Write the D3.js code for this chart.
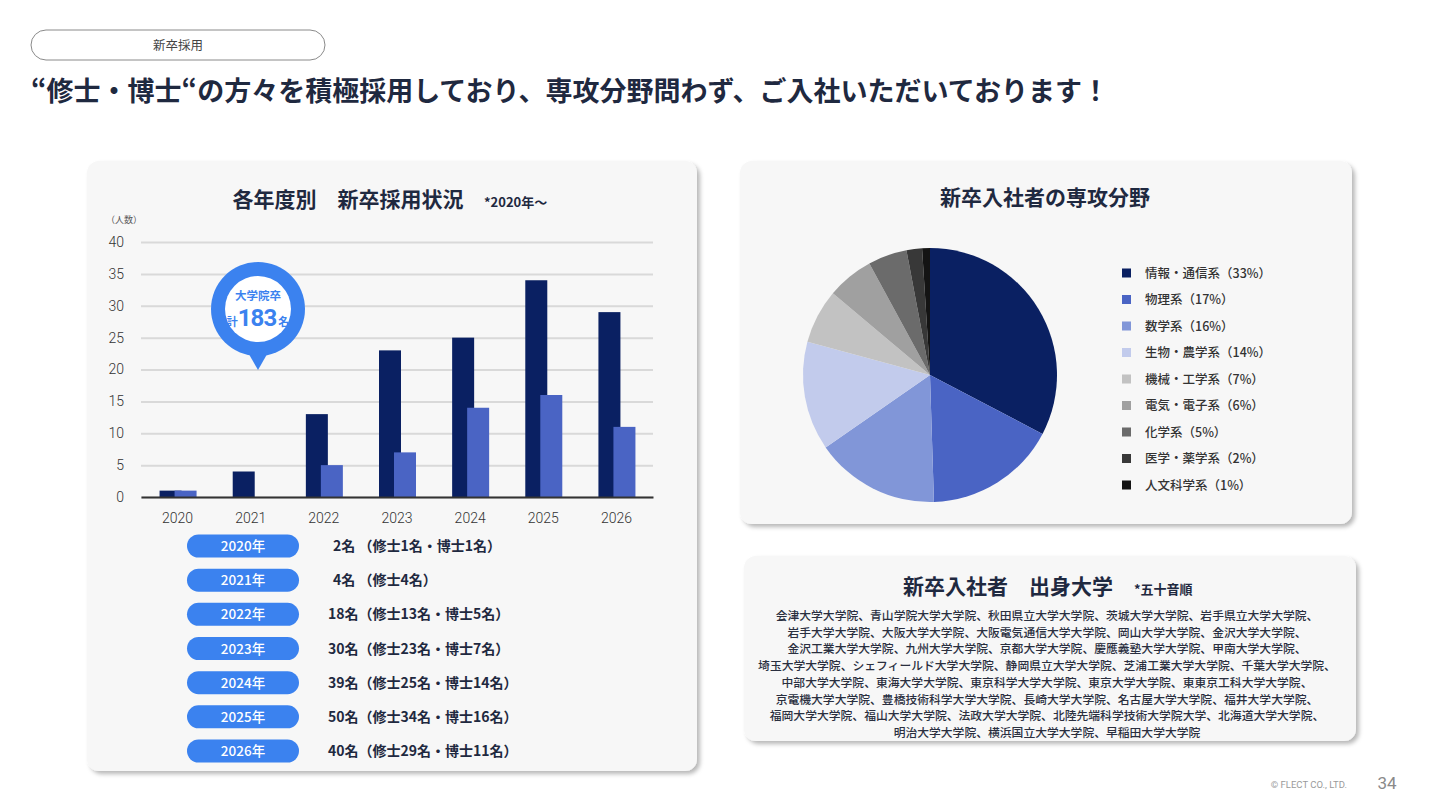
<!DOCTYPE html>
<html lang="ja">
<head>
<meta charset="utf-8">
<script src="https://cdn.jsdelivr.net/npm/d3@7"></script>
<style>
  html, body { margin: 0; padding: 0; background: #fff; }
  svg { display: block; font-family: "Noto Sans CJK JP", "Noto Sans", sans-serif; }
</style>
</head>
<body>
<div class="chart"></div>
<script>
// 年度別 採用数
let years = ["2020", "2021", "2022", "2023", "2024", "2025", "2026"];
let masters = [1, 4, 13, 23, 25, 34, 29];
let doctors = [1, 0, 5, 7, 14, 16, 11];
let yTicks = [0, 5, 10, 15, 20, 25, 30, 35, 40];
let yearLabels = ["2020年", "2021年", "2022年", "2023年", "2024年", "2025年", "2026年"];
let yearNotes = [
  "2名 （修士1名・博士1名）",
  "4名 （修士4名）",
  "18名（修士13名・博士5名）",
  "30名（修士23名・博士7名）",
  "39名（修士25名・博士14名）",
  "50名（修士34名・博士16名）",
  "40名（修士29名・博士11名）"
];

// 専攻分野
let fields = ["情報・通信系", "物理系", "数学系", "生物・農学系", "機械・工学系", "電気・電子系", "化学系", "医学・薬学系", "人文科学系"];
let fieldShares = [33, 17, 16, 14, 7, 6, 5, 2, 1];
let fieldColors = ["#0a2062", "#4a64c4", "#8196d8", "#c2cbec", "#c2c2c2", "#a0a0a0", "#6b6b6b", "#383838", "#141414"];

// 出身大学
let universities = [
  "会津大学大学院、青山学院大学大学院、秋田県立大学大学院、茨城大学大学院、岩手県立大学大学院、",
  "岩手大学大学院、大阪大学大学院、大阪電気通信大学大学院、岡山大学大学院、金沢大学大学院、",
  "金沢工業大学大学院、九州大学大学院、京都大学大学院、慶應義塾大学大学院、甲南大学大学院、",
  "埼玉大学大学院、シェフィールド大学大学院、静岡県立大学大学院、芝浦工業大学大学院、千葉大学大学院、",
  "中部大学大学院、東海大学大学院、東京科学大学大学院、東京大学大学院、東東京工科大学大学院、",
  "京電機大学大学院、豊橋技術科学大学大学院、長崎大学大学院、名古屋大学大学院、福井大学大学院、",
  "福岡大学大学院、福山大学大学院、法政大学大学院、北陸先端科学技術大学院大学、北海道大学大学院、",
  "明治大学大学院、横浜国立大学大学院、早稲田大学大学院"
];

let width = 1440;
let height = 810;
let navy = "#1f2940";
let blue = "#3b82ef";

const svg = d3.select(".chart")
  .append("svg")
  .attr("width", width)
  .attr("height", height);

let defs = svg.append("defs");
let shadow = defs.append("filter").attr("id", "shadow")
  .attr("x", "-5%").attr("y", "-5%").attr("width", "115%").attr("height", "115%");
shadow.append("feDropShadow")
  .attr("dx", 3).attr("dy", 3).attr("stdDeviation", 2)
  .attr("flood-color", "#000").attr("flood-opacity", 0.28);

// header
svg.append("rect")
  .attr("x", 31).attr("y", 30).attr("width", 294).attr("height", 30).attr("rx", 15)
  .attr("fill", "#fff").attr("stroke", "#8a8a8a").attr("stroke-width", 1);
svg.append("text")
  .attr("x", 178).attr("y", 50).attr("text-anchor", "middle")
  .attr("font-size", 12.5).attr("fill", "#444")
  .text("新卒採用");
svg.append("text")
  .attr("x", 31).attr("y", 101)
  .attr("font-size", 27).attr("font-weight", 700).attr("fill", navy)
  .text("“修士・博士“の方々を積極採用しており、専攻分野問わず、ご入社いただいております！");

// panels
let panels = [
  {x: 87, y: 161, w: 610, h: 610},
  {x: 740, y: 161, w: 612, h: 363},
  {x: 744, y: 556, w: 612, h: 185}
];
svg.selectAll(".panel")
  .data(panels)
  .enter()
  .append("rect")
  .attr("class", "panel")
  .attr("x", d => d.x).attr("y", d => d.y)
  .attr("width", d => d.w).attr("height", d => d.h)
  .attr("rx", 12)
  .attr("fill", "#f7f7f7")
  .attr("filter", "url(#shadow)");

// ---- bar chart ----
svg.append("text")
  .attr("x", 348).attr("y", 207).attr("text-anchor", "middle")
  .attr("font-size", 21).attr("font-weight", 700).attr("fill", navy)
  .text("各年度別　新卒採用状況");
svg.append("text")
  .attr("x", 484).attr("y", 207)
  .attr("font-size", 13).attr("font-weight", 700).attr("fill", navy)
  .text("*2020年～");
svg.append("text")
  .attr("x", 106).attr("y", 223)
  .attr("font-size", 9).attr("fill", "#555")
  .text("（人数）");

let xScale = d3.scaleBand()
  .domain(years)
  .range([141, 653])
  .padding(0);
let yScale = d3.scaleLinear()
  .domain([0, 40])
  .range([497, 242]);

let gy = svg.append("g")
  .attr("transform", "translate(141,0)")
  .call(d3.axisLeft(yScale).tickValues(yTicks).tickSize(-512).tickPadding(17));
gy.select(".domain").remove();
gy.selectAll(".tick line").attr("stroke", "#d9d9d9").attr("stroke-width", 2);
gy.selectAll(".tick text")
  .attr("font-family", "Roboto, sans-serif").attr("font-weight", 300)
  .attr("font-size", 14).attr("fill", "#333");

let half = xScale.bandwidth() / 2;
svg.selectAll(".bar-m")
  .data(masters)
  .enter()
  .append("rect")
  .attr("class", "bar-m")
  .attr("x", (d, i) => xScale(years[i]) + half - 18)
  .attr("y", d => yScale(d))
  .attr("width", 22)
  .attr("height", d => yScale(0) - yScale(d))
  .attr("fill", "#0a2062");
svg.selectAll(".bar-d")
  .data(doctors)
  .enter()
  .append("rect")
  .attr("class", "bar-d")
  .attr("x", (d, i) => xScale(years[i]) + half - 3)
  .attr("y", d => yScale(d))
  .attr("width", 22)
  .attr("height", d => yScale(0) - yScale(d))
  .attr("fill", "#4a64c4");

let gx = svg.append("g")
  .attr("transform", "translate(0," + yScale(0) + ")")
  .call(d3.axisBottom(xScale).tickSize(0).tickPadding(16));
gx.select(".domain").attr("stroke", "#333").attr("stroke-width", 2);
gx.selectAll(".tick text")
  .attr("font-family", "Roboto, sans-serif").attr("font-weight", 300)
  .attr("font-size", 14).attr("fill", "#333");

// callout bubble
let cx = 258, cy = 309;
svg.append("path")
  .attr("d", `M${cx - 12},${cy + 40} L${cx},${cy + 61} L${cx + 12},${cy + 40} Z`)
  .attr("fill", blue);
svg.append("circle").attr("cx", cx).attr("cy", cy).attr("r", 47).attr("fill", blue);
svg.append("circle").attr("cx", cx).attr("cy", cy).attr("r", 33).attr("fill", "#fff");
svg.append("text")
  .attr("x", cx).attr("y", cy - 9).attr("text-anchor", "middle")
  .attr("font-size", 11.5).attr("font-weight", 700).attr("fill", blue)
  .text("大学院卒");
let t183 = svg.append("text")
  .attr("x", cx).attr("y", cy + 17).attr("text-anchor", "middle")
  .attr("font-weight", 700).attr("fill", blue);
t183.append("tspan").attr("font-size", 11).text("計");
t183.append("tspan").attr("font-size", 24).attr("letter-spacing", -1)
  .attr("font-family", "Roboto, sans-serif").text("183");
t183.append("tspan").attr("font-size", 11).attr("dx", 2).text("名");

// year list
let rowY = d3.scalePoint().domain(yearLabels).range([546, 751]);
svg.selectAll(".pill")
  .data(yearLabels)
  .enter()
  .append("rect")
  .attr("class", "pill")
  .attr("x", 187).attr("y", d => rowY(d) - 11.5)
  .attr("width", 112).attr("height", 23).attr("rx", 11.5)
  .attr("fill", blue);
svg.selectAll(".pill-text")
  .data(yearLabels)
  .enter()
  .append("text")
  .attr("class", "pill-text")
  .attr("x", 243).attr("y", d => rowY(d) + 5)
  .attr("text-anchor", "middle")
  .attr("font-size", 13.5).attr("font-weight", 500).attr("fill", "#fff")
  .text(d => d);
svg.selectAll(".note")
  .data(yearNotes)
  .enter()
  .append("text")
  .attr("class", "note")
  .attr("x", (d, i) => i < 2 ? 333 : 328)
  .attr("y", (d, i) => rowY(yearLabels[i]) + 5)
  .attr("font-size", 14).attr("font-weight", 700).attr("fill", navy)
  .text(d => d);

// ---- pie chart ----
svg.append("text")
  .attr("x", 1045).attr("y", 205).attr("text-anchor", "middle")
  .attr("font-size", 21).attr("font-weight", 700).attr("fill", navy)
  .text("新卒入社者の専攻分野");

let pie = d3.pie().sort(null).value(d => d);
let arc = d3.arc().innerRadius(0).outerRadius(127);
svg.append("g")
  .attr("transform", "translate(930,375)")
  .selectAll("path")
  .data(pie(fieldShares))
  .enter()
  .append("path")
  .attr("d", arc)
  .attr("fill", (d, i) => fieldColors[i]);

let legY = d3.scalePoint().domain(fields).range([273, 485]);
svg.selectAll(".leg-sq")
  .data(fields)
  .enter()
  .append("rect")
  .attr("class", "leg-sq")
  .attr("x", 1122).attr("y", d => legY(d) - 4.5)
  .attr("width", 9).attr("height", 9)
  .attr("fill", (d, i) => fieldColors[i]);
svg.selectAll(".leg-text")
  .data(fields)
  .enter()
  .append("text")
  .attr("class", "leg-text")
  .attr("x", 1145).attr("y", d => legY(d) + 4.5)
  .attr("font-size", 12.5).attr("font-weight", 500).attr("fill", "#333")
  .text((d, i) => d + "（" + fieldShares[i] + "%）");

// ---- universities ----
svg.append("text")
  .attr("x", 1008).attr("y", 594).attr("text-anchor", "middle")
  .attr("font-size", 21).attr("font-weight", 700).attr("fill", navy)
  .text("新卒入社者　出身大学");
svg.append("text")
  .attr("x", 1134).attr("y", 594)
  .attr("font-size", 13).attr("font-weight", 700).attr("fill", navy)
  .text("*五十音順");
svg.selectAll(".univ")
  .data(universities)
  .enter()
  .append("text")
  .attr("class", "univ")
  .attr("x", 1047).attr("y", (d, i) => 620 + i * 16.7)
  .attr("text-anchor", "middle")
  .attr("font-size", 11.8).attr("font-weight", 500).attr("fill", "#2a2f3f")
  .text(d => d);

// footer
svg.append("text")
  .attr("x", 1347).attr("y", 788).attr("text-anchor", "end")
  .attr("font-family", "Roboto, sans-serif").attr("font-size", 9.5).attr("fill", "#9a9a9a")
  .text("© FLECT CO., LTD.");
svg.append("text")
  .attr("x", 1387).attr("y", 789).attr("text-anchor", "middle")
  .attr("font-family", "Roboto, sans-serif").attr("font-size", 17).attr("fill", "#8a8a8a")
  .text("34");
</script>
</body>
</html>
